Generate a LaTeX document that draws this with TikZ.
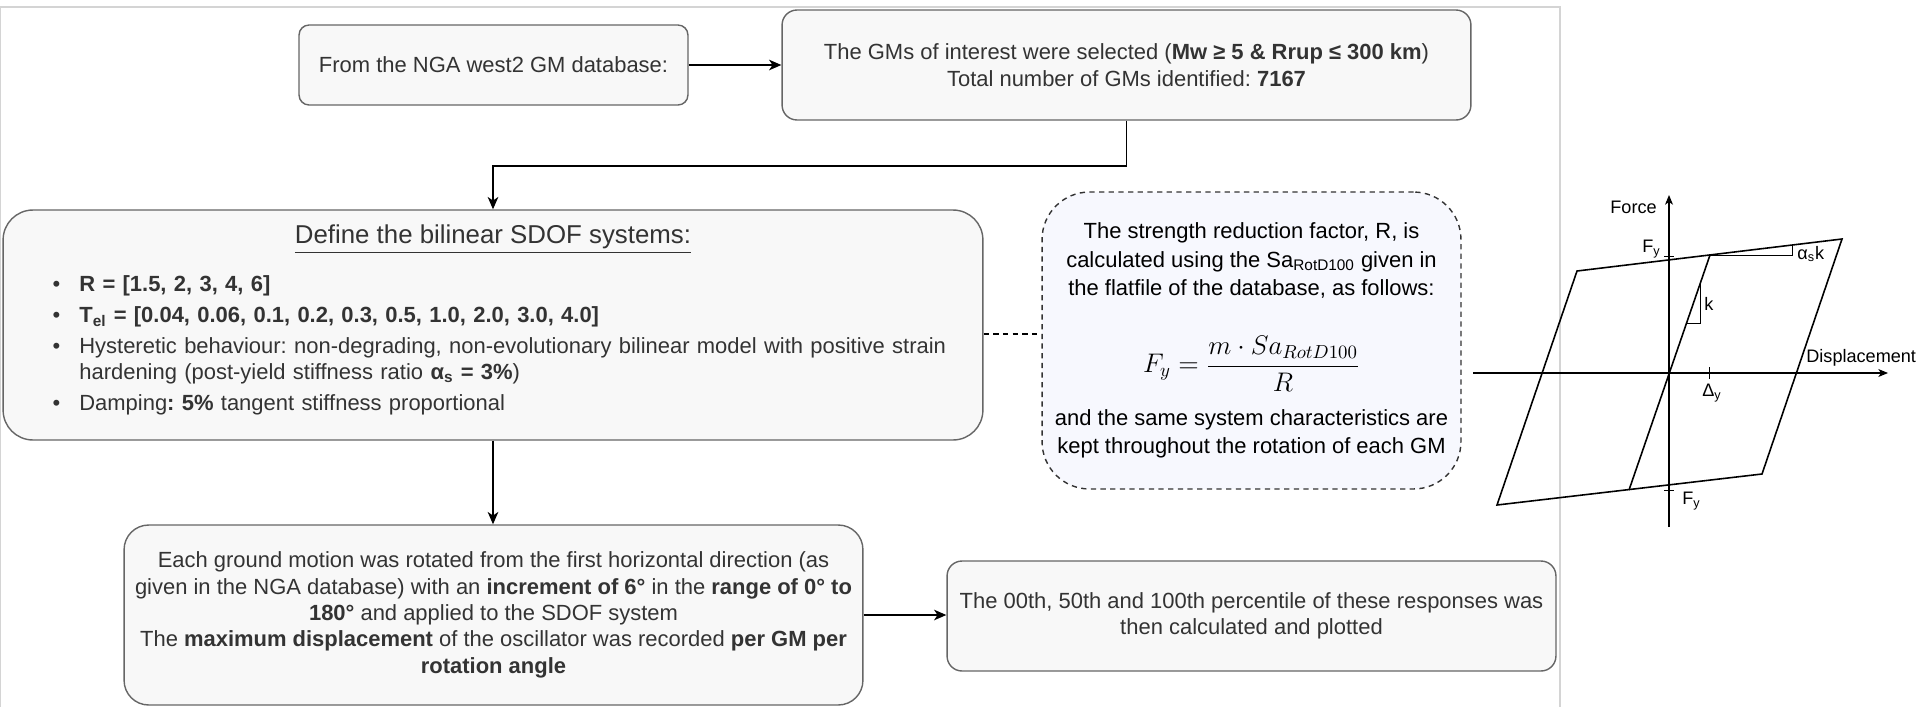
\RequirePackage{fix-cm}
\documentclass[tikz,border=0pt]{standalone}
\usepackage{fontspec}
\setmainfont{Liberation Sans}
\usepackage{amsmath}
\usetikzlibrary{arrows.meta}
\frenchspacing

\definecolor{boxfill}{HTML}{F8F8F8}
\definecolor{boxline}{HTML}{666666}
\definecolor{notefill}{HTML}{F7F8FE}
\definecolor{txt}{HTML}{333333}
\definecolor{framegray}{HTML}{D4D4D4}

\newcommand{\gmfont}{\fontsize{12.5}{15}\selectfont}
\newcommand{\notefont}{\fontsize{12.5}{16.2}\selectfont}
\newcommand{\titlefont}{\fontsize{14.7}{17}\selectfont}
\newcommand{\plotfont}{\fontsize{10.3}{12}\selectfont}

\begin{document}
\begin{tikzpicture}[x=0.02cm, y=-0.02cm,
    flowbox/.style={draw=boxline, line width=0.8pt, fill=boxfill, align=center, text=txt, font=\gmfont, inner sep=0pt},
    notebox/.style={draw=black!80, line width=0.8pt, dash pattern=on 3pt off 2.5pt, fill=notefill, align=center, font=\notefont, inner sep=0pt},
    arr/.style={-{Stealth[length=7pt, width=6pt, inset=2pt]}, line width=1pt, black},
    axis/.style={-{Stealth[length=5.5pt, width=4.5pt, inset=1.5pt]}, line width=0.6pt},
    loopline/.style={line width=0.9pt, line join=miter},
    plotlabel/.style={font=\plotfont, inner sep=0pt}]
    \useasboundingbox (0,0) rectangle (1920,707);

    % frame
    \draw[framegray, line width=0.6pt] (0,707) -- (0,7) -- (1560,7) -- (1560,707);

    % Boxes
    \node[flowbox, rounded corners=5.7pt, minimum width=7.78cm, minimum height=1.6cm] (nga) at (493.5,65) {From the NGA west2 GM database:};
    \node[flowbox, rounded corners=8.5pt, minimum width=13.78cm, minimum height=2.2cm] (select) at (1126.5,65)
        {The GMs of interest were selected (\textbf{Mw ≥ 5 \& Rrup ≤ 300 km})\\Total number of GMs identified: \textbf{7167}};
    \node[flowbox, rounded corners=17pt, minimum width=19.6cm, minimum height=4.6cm] (sdof) at (493,325) {};
    \node[font=\titlefont, text=txt] (sdoftitle) at (493,239) {\underline{Define the bilinear SDOF systems:}};
    \node[anchor=north west, text width=18.6cm, text=txt, font=\gmfont, inner sep=0pt] (sdoflist) at (49,251) {%
        \setlength{\leftmargini}{0.6cm}\setlength{\labelsep}{0.38cm}%
        \begin{itemize}\setlength{\itemsep}{2.5pt}\setlength{\parsep}{0pt}\setlength{\parskip}{0pt}
        \item \textbf{R = [1.5, 2, 3, 4, 6]}
        \item \textbf{T\textsubscript{el} = [0.04, 0.06, 0.1, 0.2, 0.3, 0.5, 1.0, 2.0, 3.0, 4.0]}
        \item Hysteretic behaviour: non-degrading, non-evolutionary bilinear model with positive strain\newline
              hardening (post-yield stiffness ratio \textbf{α\textsubscript{s} = 3\%})
        \item Damping\textbf{: 5\%} tangent stiffness proportional
        \end{itemize}};
    \node[notebox, rounded corners=27pt, minimum width=8.38cm, minimum height=5.94cm] (strength) at (1251.5,340.5)
        {The strength reduction factor, R, is\\
         calculated using the Sa\textsubscript{RotD100} given in\\
         the flatfile of the database, as follows:\\[0.72cm]
         {\fontsize{15.3}{18}\selectfont $\displaystyle F_y = \frac{m \cdot Sa_{RotD100}}{R}$}\\[0.32cm]
         and the same system characteristics are\\
         kept throughout the rotation of each GM};
    \node[flowbox, rounded corners=14pt, minimum width=14.78cm, minimum height=3.6cm] (rotate) at (493.5,615)
        {Each ground motion was rotated from the first horizontal direction (as\\
         given in the NGA database) with an \textbf{increment of 6°} in the \textbf{range of 0° to}\\
         \textbf{180°} and applied to the SDOF system\\
         The \textbf{maximum displacement} of the oscillator was recorded \textbf{per GM per}\\
         \textbf{rotation angle}};
    \node[flowbox, rounded corners=8.5pt, minimum width=12.18cm, minimum height=2.2cm] (pctl) at (1251.5,616)
        {The 00th, 50th and 100th percentile of these responses was\\then calculated and plotted};

    % Edges
    \draw[arr] (nga) -- (select);
    \draw[arr] (select.south) -- ++(0,45) -| (sdof.north);
    \draw[arr] (sdof.south) -- (sdof.south |- rotate.north);
    \draw[arr] (rotate.east) -- (rotate.east -| pctl.west);
    \draw[line width=0.8pt, dash pattern=on 3pt off 2.5pt] ([yshift=-0.18cm]sdof.east) -- ([yshift=-0.18cm]sdof.east -| strength.west);

    % Hysteresis plot
    \draw[axis] (1473,373) -- (1888,373);
    \draw[axis] (1669,527) -- (1669,195);
    \draw[loopline] (1497,505) -- (1577,271) -- (1842,239) -- (1762,474) -- cycle;
    \draw[loopline] (1629,490) -- (1710,255);
    \draw[line width=0.5pt] (1687,323) -- (1700,323) -- (1700,281);
    \draw[line width=0.5pt] (1710,255) -- (1792,255) -- (1792,245);
    \draw[line width=0.5pt] (1664,256) -- (1674,256);
    \draw[line width=0.5pt] (1664,490) -- (1674,490);
    \draw[line width=0.5pt] (1709,367) -- (1709,379);
    \node[plotlabel, anchor=east] (force) at (1657,207) {Force};
    \node[plotlabel, anchor=west] (displ) at (1806,358) {Displacement};
    \node[plotlabel, anchor=east] (fytop) at (1661,249) {F\textsubscript{y}};
    \node[plotlabel, anchor=west] (fybot) at (1682,501) {F\textsubscript{y}};
    \node[plotlabel, anchor=north] (dy) at (1712,384) {Δ\textsubscript{y}};
    \node[plotlabel, anchor=west] (kel) at (1704,304) {k};
    \node[plotlabel, anchor=west] (kpl) at (1797,254) {α\textsubscript{s}k};
\end{tikzpicture}
\end{document}
